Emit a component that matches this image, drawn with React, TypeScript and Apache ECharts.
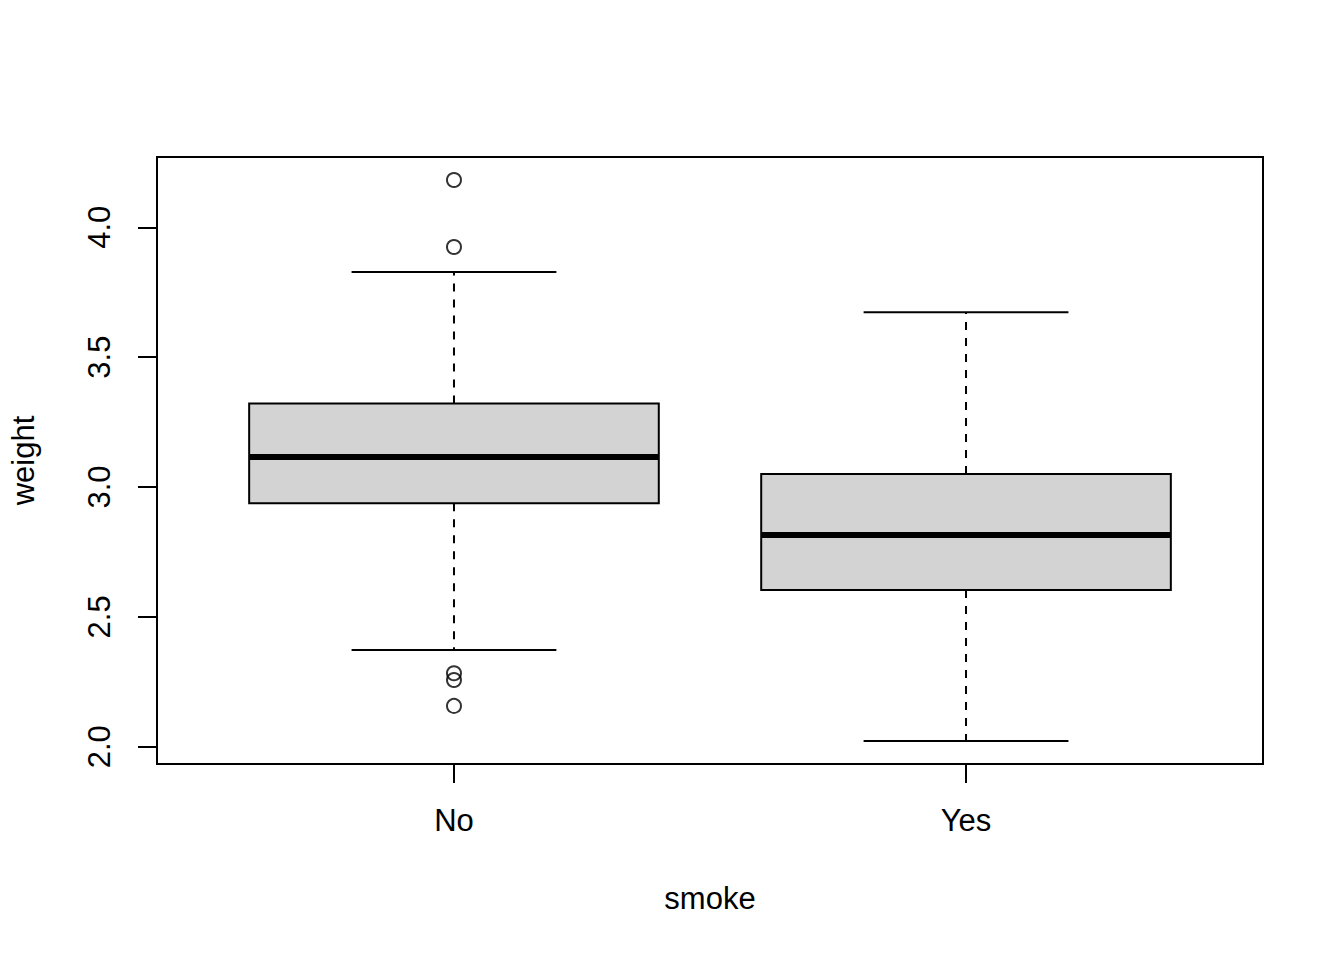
import React, { useEffect, useRef } from "react";
import * as echarts from "echarts";

// Groups and box statistics
const categories = ["No", "Yes"];
const lowerWhisker = [2.372, 2.022];
const q1 = [2.937, 2.603];
const medians = [3.1155, 2.815];
const q3 = [3.322, 3.05];
const upperWhisker = [3.828, 3.673];
// Outliers per group
const outliersNo = [4.182, 3.924, 2.283, 2.257, 2.157];
const outliersYes: number[] = [];
// Axis ticks
const yTicks = [2.0, 2.5, 3.0, 3.5, 4.0];
const xTicks = [1, 2];

const FONT = "'Liberation Sans', Arial, Helvetica, sans-serif";

export default function App() {
  const ref = useRef<HTMLDivElement>(null);
  useEffect(() => {
    if (!ref.current) return;
    const chart = echarts.init(ref.current, undefined, { renderer: "svg" });

    const boxData = categories.map((_, i) => [
      i + 1,
      lowerWhisker[i],
      q1[i],
      medians[i],
      q3[i],
      upperWhisker[i],
    ]);
    const outlierData: number[][] = [];
    outliersNo.forEach((v) => outlierData.push([1, v]));
    outliersYes.forEach((v) => outlierData.push([2, v]));

    const halfBox = 0.4;
    const halfCap = 0.2;

    const renderItem = (params: any, api: any) => {
      const x = api.value(0);
      const lo = api.value(1);
      const a = api.value(2);
      const m = api.value(3);
      const b = api.value(4);
      const hi = api.value(5);
      const pL = api.coord([x - halfBox, b]);
      const pR = api.coord([x + halfBox, a]);
      const pc = (v: number) => api.coord([x, v]);
      const cl = api.coord([x - halfCap, hi]);
      const cr = api.coord([x + halfCap, hi]);
      const ll = api.coord([x - halfCap, lo]);
      const lr = api.coord([x + halfCap, lo]);
      const mL = api.coord([x - halfBox, m]);
      const mR = api.coord([x + halfBox, m]);
      const dash = { stroke: "#000", lineWidth: 2, lineDash: [8, 8], fill: null };
      const solid = { stroke: "#000", lineWidth: 2, fill: null };
      return {
        type: "group",
        children: [
          {
            type: "line",
            shape: { x1: pc(b)[0], y1: pc(b)[1], x2: pc(hi)[0], y2: pc(hi)[1] },
            style: dash,
          },
          {
            type: "line",
            shape: { x1: pc(a)[0], y1: pc(a)[1], x2: pc(lo)[0], y2: pc(lo)[1] },
            style: dash,
          },
          {
            type: "line",
            shape: { x1: cl[0], y1: cl[1], x2: cr[0], y2: cr[1] },
            style: solid,
          },
          {
            type: "line",
            shape: { x1: ll[0], y1: ll[1], x2: lr[0], y2: lr[1] },
            style: solid,
          },
          {
            type: "rect",
            shape: { x: pL[0], y: pL[1], width: pR[0] - pL[0], height: pR[1] - pL[1] },
            style: { fill: "#d3d3d3", stroke: "#000", lineWidth: 2 },
          },
          {
            type: "line",
            shape: { x1: mL[0], y1: mL[1], x2: mR[0], y2: mR[1] },
            style: { stroke: "#000", lineWidth: 6 },
          },
        ],
      };
    };

    chart.setOption({
      animation: false,
      backgroundColor: "#fff",
      textStyle: { fontFamily: FONT },
      grid: {
        left: 157,
        top: 157,
        right: 81,
        bottom: 196,
        show: true,
        borderColor: "#000",
        borderWidth: 2,
        backgroundColor: "transparent",
      },
      xAxis: {
        type: "value",
        min: 0.42,
        max: 2.58,
        splitLine: { show: false },
        axisLine: { show: false },
        axisTick: {
          show: true,
          length: 19,
          customValues: xTicks,
          lineStyle: { color: "#000", width: 2 },
        },
        axisLabel: {
          customValues: xTicks,
          margin: 41,
          fontSize: 31,
          color: "#000",
          fontFamily: FONT,
          formatter: (v: number) => categories[Math.round(v) - 1] ?? "",
        },
        name: "smoke",
        nameLocation: "middle",
        nameGap: 119,
        nameTextStyle: { fontSize: 31, color: "#000", fontFamily: FONT },
      },
      yAxis: {
        type: "value",
        min: 1.9334,
        max: 4.2707,
        splitLine: { show: false },
        axisLine: { show: false },
        axisTick: {
          show: true,
          length: 19,
          customValues: yTicks,
          lineStyle: { color: "#000", width: 2 },
        },
        axisLabel: {
          customValues: yTicks,
          rotate: 90,
          margin: 42,
          fontSize: 31,
          color: "#000",
          fontFamily: FONT,
          formatter: (v: number) => v.toFixed(1),
        },
        name: "weight",
        nameLocation: "middle",
        nameGap: 118,
        nameTextStyle: { fontSize: 31, color: "#000", fontFamily: FONT },
      },
      series: [
        {
          type: "custom",
          renderItem,
          data: boxData,
          encode: { x: 0, y: [1, 2, 3, 4, 5] },
          z: 2,
        },
        {
          type: "scatter",
          data: outlierData,
          symbol: "circle",
          symbolSize: 14,
          itemStyle: { color: "transparent", borderColor: "#000", borderWidth: 2 },
          z: 3,
        },
      ],
    });
    return () => chart.dispose();
  }, []);
  return (
    <div
      ref={ref}
      style={{ position: "fixed", left: 0, top: 0, width: 1344, height: 960, background: "#fff" }}
    />
  );
}
